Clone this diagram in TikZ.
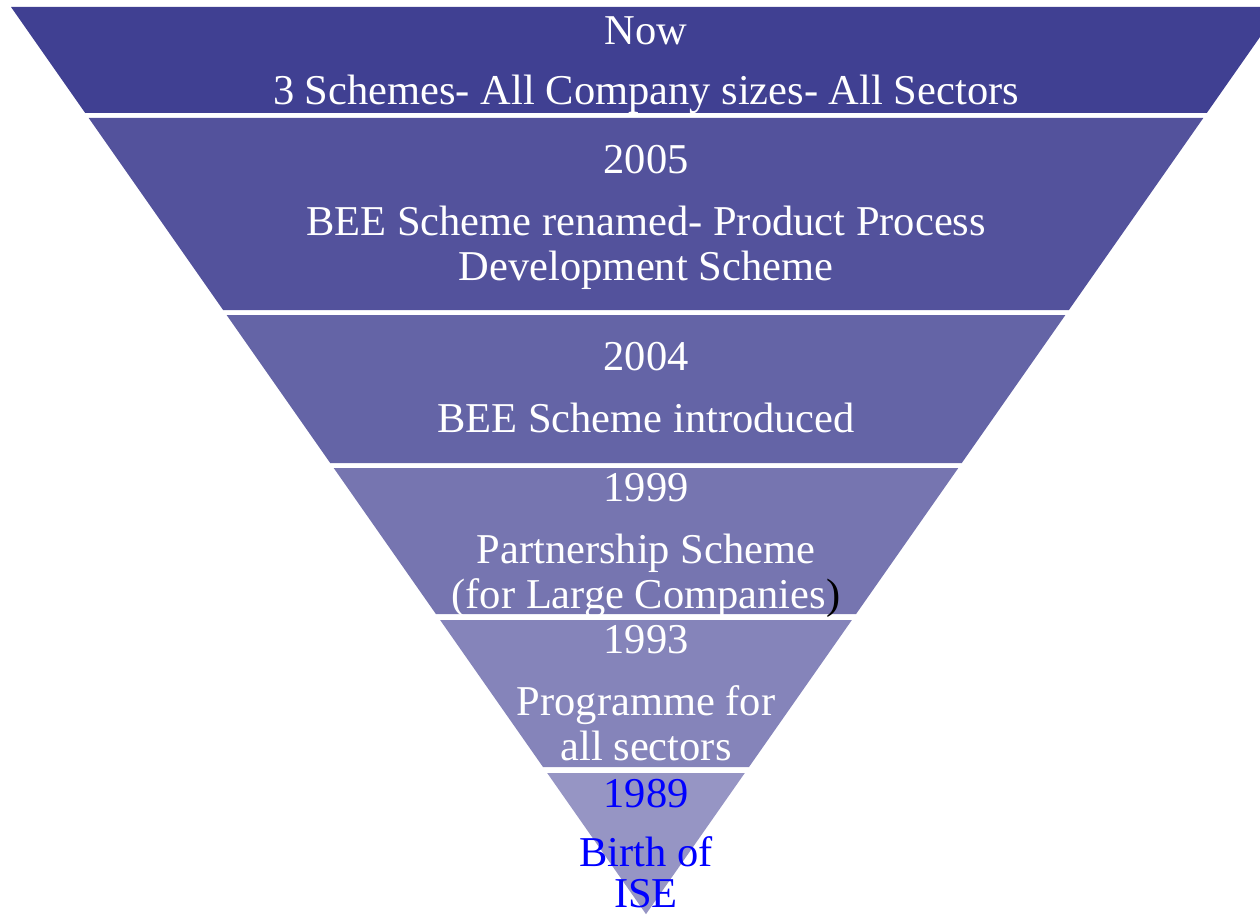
\documentclass[tikz,border=0pt]{standalone}
\usepackage{fontspec}
\setmainfont{Liberation Serif}
\definecolor{bandA}{RGB}{64,64,146}
\definecolor{bandB}{RGB}{83,82,156}
\definecolor{bandC}{RGB}{100,100,166}
\definecolor{bandD}{RGB}{118,117,176}
\definecolor{bandE}{RGB}{133,132,186}
\definecolor{bandF}{RGB}{150,149,196}
\definecolor{isecol}{RGB}{0,0,255}
\tikzset{every picture/.style={x=1pt,y=-1pt}}
\tikzset{linetext/.style={anchor=base,text=white,inner sep=0pt,font=\fontsize{42.5}{46}\selectfont}}
\tikzset{isetext/.style={linetext,text=isecol}}
% one slice of the funnel, between two heights
\newcommand{\slice}[3]{\fill [#3] ({11+0.7*(#1-7)},#1) -- ({1281-0.7*(#1-7)},#1) -- ({1281-0.7*(#2-7)},#2) -- ({11+0.7*(#2-7)},#2) -- cycle;}
\begin{document}
\begin{tikzpicture}
\useasboundingbox (0,0) rectangle (1260,915);
\clip (0,0) rectangle (1260,915);
\slice{7}{113}{bandA}
\slice{118}{310}{bandB}
\slice{315}{463}{bandC}
\slice{468}{614}{bandD}
\slice{620}{767}{bandE}
\slice{773}{914}{bandF}
\node [linetext] (now) at (646,45) {Now};
\node [linetext] (nowtxt) at (646,105) {3 Schemes- All Company sizes- All Sectors};
\node [linetext] (y2005) at (646,173) {2005};
\node [linetext] (t2005a) at (646,235) {BEE Scheme renamed- Product Process};
\node [linetext] (t2005b) at (646,280) {Development Scheme};
\node [linetext] (y2004) at (646,370) {2004};
\node [linetext] (t2004) at (646,432) {BEE Scheme introduced};
\node [linetext] (y1999) at (646,501) {1999};
\node [linetext] (t1999a) at (646,563) {Partnership Scheme};
\node [linetext] (t1999b) at (646,608) {(for Large Companies\textcolor{black}{)}};
\node [linetext] (y1993) at (646,653) {1993};
\node [linetext] (t1993a) at (646,715) {Programme for};
\node [linetext] (t1993b) at (646,760) {all sectors};
\node [isetext] (y1989) at (646,807) {1989};
\node [isetext] (t1989a) at (646,866) {Birth of};
\node [isetext] (t1989b) at (646,907) {ISE};
\end{tikzpicture}
\end{document}
